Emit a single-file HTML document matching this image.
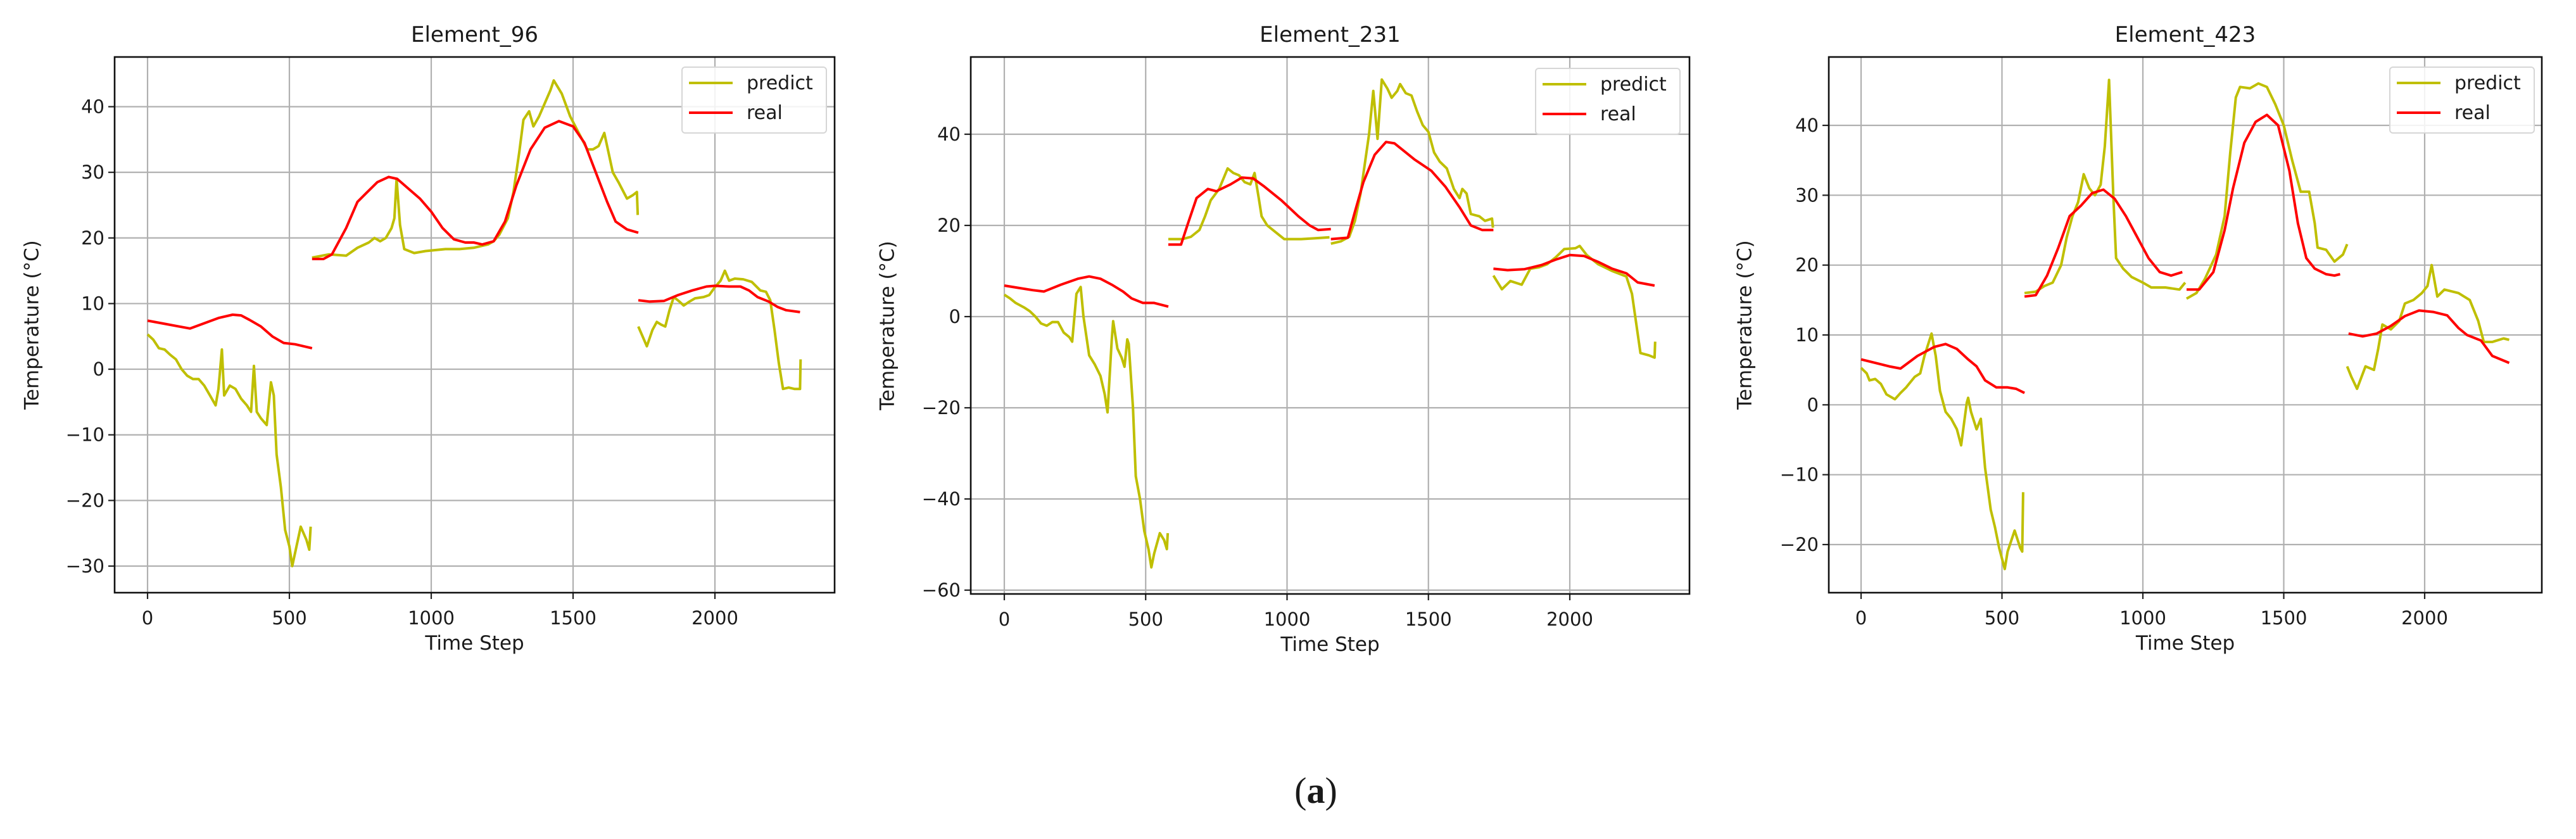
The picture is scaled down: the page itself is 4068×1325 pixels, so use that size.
<!DOCTYPE html>
<html><head><meta charset="utf-8"><style>
html,body{margin:0;padding:0;background:#fff;}
svg{display:block;}
text{font-family:"DejaVu Sans","Liberation Sans",sans-serif;fill:#1a1a1a;}
</style></head>
<body>
<svg id="fig" width="4068" height="1325" viewBox="0 0 4068 1325" xmlns="http://www.w3.org/2000/svg">
<rect width="4068" height="1325" fill="#fff"/>
<text x="2078" y="1268" font-size="58" text-anchor="middle" style="font-family:'Liberation Serif',serif">(<tspan font-weight="bold">a</tspan>)</text>
</svg>
<script>
const xTicks = [0, 500, 1000, 1500, 2000];
const e96YTicks = [-30, -20, -10, 0, 10, 20, 30, 40];
const e231YTicks = [-60, -40, -20, 0, 20, 40];
const e423YTicks = [-20, -10, 0, 10, 20, 30, 40];

const e96PredT = [0,20,40,60,80,100,120,140,160,180,200,220,240,250,262,270,290,310,330,350,365,375,385,400,420,435,445,455,470,485,500,510,525,540,560,570,575,null,580,640,700,740,780,800,820,840,860,870,878,890,905,940,980,1050,1100,1150,1200,1220,1240,1270,1290,1310,1325,1345,1360,1380,1400,1420,1432,1460,1490,1520,1550,1570,1590,1610,1625,1640,1660,1690,1710,1725,1728,null,1730,1745,1760,1780,1795,1810,1825,1840,1855,1875,1890,1910,1930,1960,1980,2000,2020,2035,2050,2070,2100,2130,2160,2180,2195,2210,2225,2240,2260,2280,2300,2302];
const e96PredV = [5.3,4.5,3.2,3,2.2,1.5,0,-1,-1.5,-1.5,-2.5,-4,-5.5,-3,3,-4,-2.5,-3,-4.5,-5.5,-6.5,0.5,-6.5,-7.5,-8.5,-2,-4,-13,-18,-24.5,-27,-30,-27,-24,-26,-27.5,-24,null,17,17.5,17.3,18.5,19.3,20,19.5,20,21.5,23,29,22,18.3,17.7,18,18.3,18.3,18.5,19,19.5,20.5,23,27,33,38,39.3,37,38.5,40.5,42.5,44,42,38.5,36,33.5,33.5,34,36,33,30,28.5,26,26.5,27,23.5,null,6.5,5,3.5,6,7.2,6.8,6.5,9,11,10.3,9.7,10.3,10.8,11,11.3,12.5,13.5,15,13.5,13.8,13.7,13.3,12,11.8,10.5,6,1,-3,-2.8,-3,-3,1.5];
const e96RealT = [0,50,100,150,200,250,300,330,360,400,440,480,520,580,null,580,620,650,700,740,770,810,850,880,920,960,1000,1040,1080,1120,1150,1180,1220,1260,1300,1350,1400,1450,1500,1540,1580,1620,1650,1690,1730,null,1730,1770,1820,1870,1920,1970,2000,2050,2090,2120,2150,2190,2220,2250,2300];
const e96RealV = [7.4,7,6.6,6.2,7,7.8,8.3,8.2,7.5,6.5,5,4,3.8,3.2,null,16.8,16.8,17.5,21.5,25.5,26.8,28.5,29.3,29,27.5,26,24,21.5,19.8,19.3,19.3,19,19.5,22.5,28,33.5,36.8,37.8,37,34.5,30,25.5,22.5,21.3,20.8,null,10.5,10.3,10.4,11.3,12,12.6,12.7,12.6,12.6,12,11,10.3,9.5,9,8.7];

const e231PredT = [0,20,40,70,90,110,130,150,170,190,210,230,240,255,270,280,300,320,340,355,365,380,385,400,415,425,435,440,455,465,480,495,510,520,530,550,565,575,578,null,580,630,660,690,710,730,760,790,810,830,850,870,885,900,910,930,960,990,1050,1100,1150,null,1155,1190,1220,1240,1260,1290,1305,1320,1335,1355,1370,1390,1400,1420,1440,1460,1480,1500,1520,1540,1565,1590,1610,1620,1635,1650,1680,1700,1725,1728,null,1730,1760,1790,1830,1860,1890,1920,1950,1980,2020,2035,2060,2100,2150,2200,2220,2250,2280,2300,2302];
const e231PredV = [4.8,4,3,2,1.2,0,-1.5,-2,-1.2,-1.2,-3.5,-4.5,-5.5,5,6.5,0,-8.5,-10.5,-13,-17,-21,-5,-1,-7,-9,-11,-5,-6,-20,-35,-40,-47,-51,-55,-52,-47.5,-49,-51,-47.5,null,17,17,17.5,19,22,25.5,28,32.5,31.5,31,29.5,29,31.5,26,22,20,18.5,17,17,17.2,17.4,null,16,16.5,17.5,21,27,40,49.5,39,52,50,48,49.5,51,49,48.5,45,42,40.5,36,34,32.5,28,26,28,27,22.5,22,21,21.5,19.5,null,9,6,7.8,7,10.5,10.8,11.5,13,14.8,15,15.5,13.5,11.5,10,8.8,5,-8,-8.5,-9,-5.5];
const e231RealT = [0,50,100,140,200,260,300,340,380,420,450,490,530,580,null,580,625,650,680,720,750,800,840,880,920,980,1040,1080,1110,1155,null,1155,1215,1240,1270,1310,1350,1380,1410,1450,1510,1560,1610,1650,1690,1730,null,1730,1780,1840,1900,1950,2000,2050,2100,2150,2200,2240,2300];
const e231RealV = [6.8,6.3,5.8,5.5,7,8.3,8.8,8.3,7,5.5,4,3,3,2.2,null,15.8,15.8,20.5,26,28,27.5,29,30.5,30.3,28.5,25.5,22,20,19,19.2,null,17,17.3,23,29.5,35.5,38.3,38,36.5,34.5,32,28.5,24,20,19,19,null,10.5,10.2,10.4,11.3,12.5,13.5,13.3,12,10.5,9.5,7.5,6.8];

const e423PredT = [0,20,30,50,70,90,120,140,160,190,210,225,250,265,280,300,320,340,355,375,380,390,410,425,440,460,475,490,510,520,545,565,572,575,null,580,620,650,680,710,730,750,770,790,810,830,850,865,880,895,905,930,960,1000,1030,1080,1130,1150,null,1155,1190,1220,1260,1290,1310,1330,1345,1380,1410,1440,1470,1500,1530,1560,1590,1610,1620,1650,1680,1710,1725,null,1725,1740,1760,1790,1820,1835,1850,1880,1910,1930,1960,1990,2010,2025,2045,2070,2120,2160,2190,2210,2240,2280,2300];
const e423PredV = [5.3,4.5,3.5,3.7,3,1.5,0.8,1.7,2.5,4,4.5,7,10.2,7,2,-1,-2,-3.5,-5.8,0.3,1,-1,-3.5,-2,-9,-15,-17.5,-20.5,-23.5,-21,-18,-20.5,-21,-12.5,null,16,16.2,17,17.5,20,24,27,29,33,31,30,31.5,37,46.5,30,21,19.5,18.3,17.5,16.8,16.8,16.5,17.5,null,15.2,16,18,21.5,27,36,44,45.5,45.3,46,45.5,43,40,35,30.5,30.5,26,22.5,22.2,20.5,21.5,23,null,5.5,4,2.3,5.5,5,8,11.5,10.8,12,14.5,15,16,17,20,15.5,16.5,16,15,12,9,9,9.5,9.3];
const e423RealT = [0,50,100,140,200,260,300,340,380,410,440,480,520,550,580,null,580,620,660,700,740,780,820,860,900,940,980,1020,1060,1100,1140,null,1155,1200,1250,1290,1320,1360,1400,1440,1480,1520,1550,1580,1610,1650,1680,1700,null,1730,1780,1830,1880,1930,1980,2030,2080,2120,2150,2200,2240,2300];
const e423RealV = [6.5,6,5.5,5.2,7,8.3,8.7,8,6.5,5.5,3.5,2.5,2.5,2.3,1.7,null,15.5,15.7,18.5,22.5,27,28.5,30.3,30.8,29.5,27,24,21,19,18.5,19,null,16.5,16.5,19,25,31,37.5,40.5,41.5,40,33.5,26,21,19.5,18.7,18.5,18.7,null,10.2,9.8,10.2,11.3,12.7,13.5,13.3,12.8,11,10,9.2,7,6];

const NS = 'http://www.w3.org/2000/svg';
const fig = document.getElementById('fig');
function mk(tag, attrs, parent) {
  const el = document.createElementNS(NS, tag);
  for (const k in attrs) el.setAttribute(k, attrs[k]);
  (parent || fig).appendChild(el);
  return el;
}

const panels = [
  {key:'element-96', title:'Element_96', L:181, R:1318, T:90, B:936, x0px:233, x2000px:1129, yA:40, yApx:168.5, yB:-30, yBpx:894, yTicks:e96YTicks, pt:e96PredT, pv:e96PredV, rt:e96RealT, rv:e96RealV, ylabX:52, leg:[1077,106,228,104]},
  {key:'element-231', title:'Element_231', L:1533, R:2668, T:90, B:938, x0px:1586, x2000px:2479, yA:40, yApx:212, yB:-60, yBpx:932, yTicks:e231YTicks, pt:e231PredT, pv:e231PredV, rt:e231RealT, rv:e231RealV, ylabX:1403, leg:[2425,108,228,104]},
  {key:'element-423', title:'Element_423', L:2888, R:4014, T:90, B:936, x0px:2939, x2000px:3829, yA:40, yApx:198, yB:-20, yBpx:860, yTicks:e423YTicks, pt:e423PredT, pv:e423PredV, rt:e423RealT, rv:e423RealV, ylabX:2757, leg:[3774,106,228,104]}
];

function pathFrom(ts, vs, sx, sy) {
  let d = '', pen = false;
  for (let i = 0; i < ts.length; i++) {
    if (ts[i] === null || vs[i] === null) { pen = false; continue; }
    d += (pen ? 'L' : 'M') + sx(ts[i]).toFixed(1) + ',' + sy(vs[i]).toFixed(1);
    pen = true;
  }
  return d;
}

panels.forEach(p => {
  const sx = t => p.x0px + (t / 2000) * (p.x2000px - p.x0px);
  const sy = v => p.yApx + (v - p.yA) / (p.yB - p.yA) * (p.yBpx - p.yApx);
  const g = mk('g', {});
  
  

  const title = mk('text', {x:(p.L + p.R) / 2, y:66, 'font-size':34, 'text-anchor':'middle'}, g);
  title.textContent = p.title;
  
  

  // grid
  xTicks.forEach(t => {
    const x = sx(t);
    const gl = mk('line', {x1:x, x2:x, y1:p.T, y2:p.B, stroke:'#b0b0b0', 'stroke-width':2.2}, g);
    
    
    mk('line', {x1:x, x2:x, y1:p.B, y2:p.B + 10, stroke:'#222', 'stroke-width':2.2}, g);
    const tl = mk('text', {x:x, y:p.B + 50, 'font-size':29, 'text-anchor':'middle'}, g);
    tl.textContent = t;
    
    
  });
  p.yTicks.forEach(v => {
    const y = sy(v);
    const gl = mk('line', {x1:p.L, x2:p.R, y1:y, y2:y, stroke:'#b0b0b0', 'stroke-width':2.2}, g);
    
    
    mk('line', {x1:p.L - 10, x2:p.L, y1:y, y2:y, stroke:'#222', 'stroke-width':2.2}, g);
    const tl = mk('text', {x:p.L - 16, y:y + 10, 'font-size':29, 'text-anchor':'end'}, g);
    tl.textContent = v < 0 ? '\u2212' + Math.abs(v) : String(v);
    
    
  });

  const clipId = 'clip-' + p.key;
  const cp = mk('clipPath', {id:clipId}, g);
  mk('rect', {x:p.L, y:p.T, width:p.R - p.L, height:p.B - p.T}, cp);

  const pred = mk('path', {d:pathFrom(p.pt, p.pv, sx, sy), fill:'none', stroke:'#bfbf00', 'stroke-width':4, 'stroke-linejoin':'round', 'clip-path':'url(#' + clipId + ')'}, g);
  
  
  const real = mk('path', {d:pathFrom(p.rt, p.rv, sx, sy), fill:'none', stroke:'#ff0000', 'stroke-width':4, 'stroke-linejoin':'round', 'clip-path':'url(#' + clipId + ')'}, g);
  
  

  const frame = mk('rect', {x:p.L, y:p.T, width:p.R - p.L, height:p.B - p.T, fill:'none', stroke:'#111', 'stroke-width':2.6}, g);
  
  

  const xl = mk('text', {x:(p.L + p.R) / 2, y:p.B + 90, 'font-size':31, 'text-anchor':'middle'}, g);
  xl.textContent = 'Time Step';
  
  
  const yc = (p.T + p.B) / 2;
  const yl = mk('text', {x:p.ylabX, y:yc, 'font-size':31, 'text-anchor':'middle', transform:'rotate(-90 ' + p.ylabX + ' ' + yc + ')', 'dominant-baseline':'middle'}, g);
  yl.textContent = 'Temperature (\u00B0C)';
  
  

  const [lx, ly, lw, lh] = p.leg;
  const lg = mk('g', {}, g);
  
  
  mk('rect', {x:lx, y:ly, width:lw, height:lh, rx:5, fill:'#fff', 'fill-opacity':0.85, stroke:'#d6d6d6', 'stroke-width':2}, lg);
  [['predict', '#bfbf00', 25], ['real', '#ff0000', 72]].forEach(([name, col, dy]) => {
    const e = mk('g', {}, lg);
    
    
    mk('line', {x1:lx + 11, x2:lx + 80, y1:ly + dy, y2:ly + dy, stroke:col, 'stroke-width':4}, e);
    const t = mk('text', {x:lx + 102, y:ly + dy + 10, 'font-size':30}, e);
    t.textContent = name;
  });
});
</script>
</body></html>
